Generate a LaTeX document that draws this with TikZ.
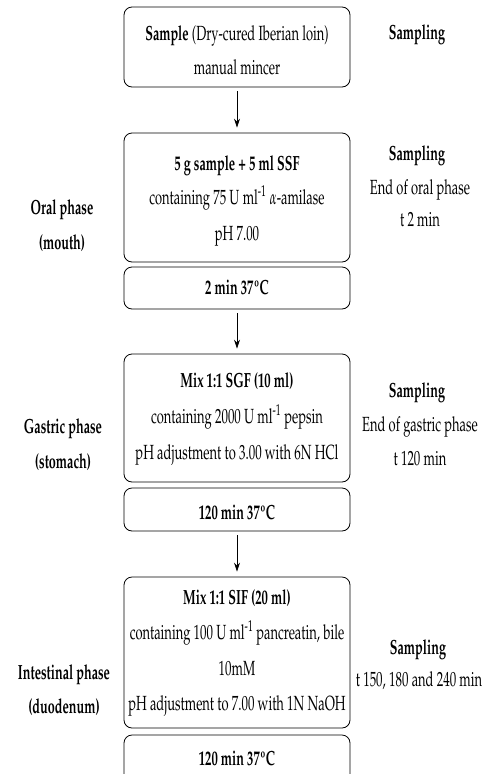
\documentclass[tikz,border=0pt]{standalone}
\usepackage[T1]{fontenc}
\usepackage{mathpazo}
\usetikzlibrary{arrows.meta}
\newcommand\sq[1]{\scalebox{0.63}[1]{#1}}
\newcommand\sqb[1]{\scalebox{0.615}[1]{\textbf{#1}}}
\tikzset{
 box/.style={draw, rounded corners=8pt, line width=0.8pt, minimum width=226pt, inner sep=0pt},
 txt/.style={anchor=base, inner sep=0pt, font=\fontsize{20.5}{24}\selectfont},
 arr/.style={-{Stealth[length=9pt,width=6pt]}, line width=0.8pt, shorten <=4pt, shorten >=5pt},
}
\begin{document}
\begin{tikzpicture}[x=1pt,y=-1pt]
\useasboundingbox (0,0) rectangle (484,774);
\clip (0,0) rectangle (484,774);
% boxes
\node[box, minimum height=80pt] (b1) at (237,47) {};
\node[box, minimum height=129pt] (b2) at (237,197.5) {};
\node[box, minimum height=42pt] (b3) at (237,288) {};
\node[box, minimum height=128pt] (b4) at (237,418) {};
\node[box, minimum height=43pt] (b5) at (237,509.5) {};
\node[box, minimum height=151pt] (b6) at (237,652.5) {};
\node[box, minimum height=65pt] (b7) at (237,767.5) {};
% arrows
\draw[arr] (b1.south) -- (b2.north);
\draw[arr] (b3.south) -- (b4.north);
\draw[arr] (b5.south) -- (b6.north);
% box texts
\node[txt] (t1a) at (237,40) {\sqb{Sample}\sq{ (Dry-cured Iberian loin)}};
\node[txt] (t1b) at (237,74) {\sq{manual mincer}};
\node[txt] (t2a) at (237,170) {\sqb{5 g sample + 5 ml SSF}};
\node[txt] (t2b) at (237,204) {\sq{containing 75 U ml\textsuperscript{-1} $\alpha$-amilase}};
\node[txt] (t2c) at (237,240) {\sq{pH 7.00}};
\node[txt] (t3) at (237,294) {\sqb{2 min 37\textordmasculine C}};
\node[txt] (t4a) at (237,387) {\sqb{Mix 1:1 SGF (10 ml)}};
\node[txt] (t4b) at (237,423) {\sq{containing 2000 U ml\textsuperscript{-1} pepsin}};
\node[txt] (t4c) at (237,459) {\sq{pH adjustment to 3.00 with 6N HCl}};
\node[txt] (t5) at (237,519) {\sqb{120 min 37\textordmasculine C}};
\node[txt] (t6a) at (237,604) {\sqb{Mix 1:1 SIF (20 ml)}};
\node[txt] (t6b) at (237,639) {\sq{containing 100 U ml\textsuperscript{-1} pancreatin, bile}};
\node[txt] (t6c) at (237,675) {\sq{10mM}};
\node[txt] (t6d) at (237,710) {\sq{pH adjustment to 7.00 with 1N NaOH}};
\node[txt] (t7) at (237,765) {\sqb{120 min 37\textordmasculine C}};
% left labels
\node[txt] (l1a) at (62,214) {\sqb{Oral phase}};
\node[txt] (l1b) at (62,249) {\sqb{(mouth)}};
\node[txt] (l2a) at (63,433) {\sqb{Gastric phase}};
\node[txt] (l2b) at (63,468) {\sqb{(stomach)}};
\node[txt] (l3a) at (64,679) {\sqb{Intestinal phase}};
\node[txt] (l3b) at (64,713) {\sqb{(duodenum)}};
% right labels
\node[txt] (r1) at (417,39) {\sqb{Sampling}};
\node[txt] (r2a) at (417,160) {\sqb{Sampling}};
\node[txt] (r2b) at (420,194) {\sq{End of oral phase}};
\node[txt] (r2c) at (420,226) {\sq{t 2 min}};
\node[txt] (r3a) at (417,397) {\sqb{Sampling}};
\node[txt] (r3b) at (420,431) {\sq{End of gastric phase}};
\node[txt] (r3c) at (420,465) {\sq{t 120 min}};
\node[txt] (r4a) at (418,654) {\sqb{Sampling}};
\node[txt] (r4b) at (419,686) {\sq{t 150, 180 and 240 min}};
\end{tikzpicture}
\end{document}
